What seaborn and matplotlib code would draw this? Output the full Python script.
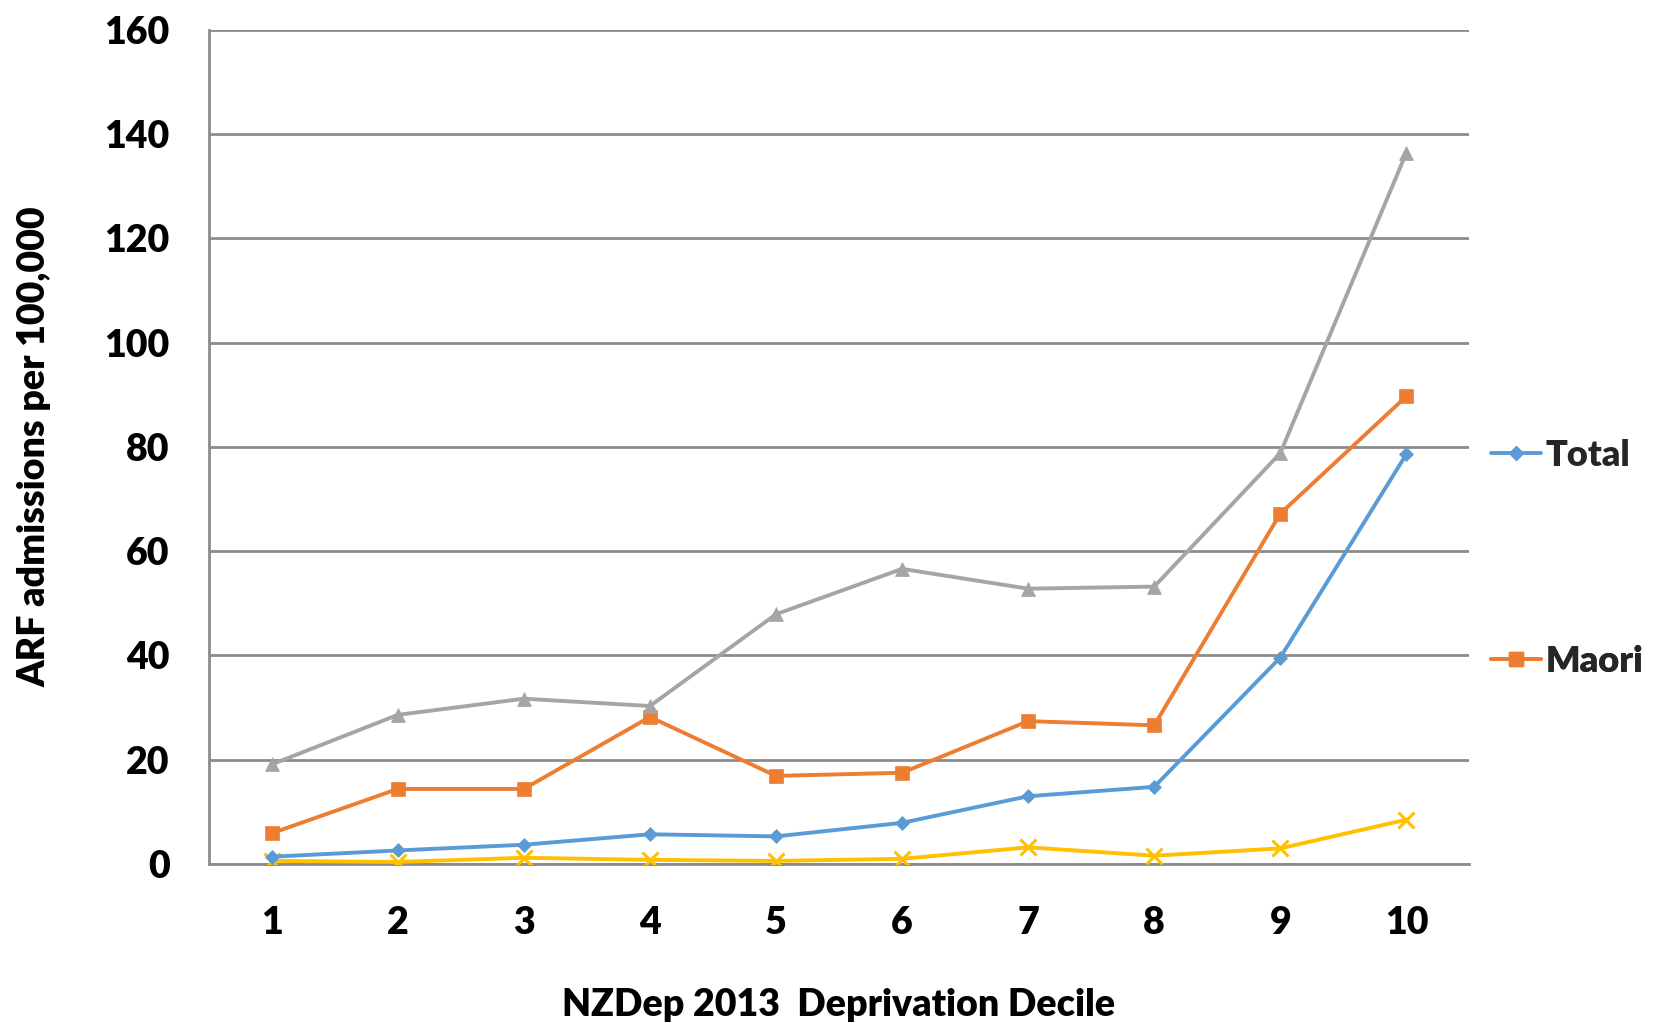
import matplotlib
matplotlib.use("Agg")
import matplotlib.pyplot as plt
import seaborn as sns
import pandas as pd
from matplotlib.lines import Line2D

deciles = [1, 2, 3, 4, 5, 6, 7, 8, 9, 10]
total = [1.4, 2.6, 3.7, 5.7, 5.3, 7.9, 13.0, 14.8, 39.6, 78.6]
maori = [5.9, 14.4, 14.4, 28.2, 16.9, 17.5, 27.4, 26.6, 67.2, 89.7]
pacific = [19.1, 28.6, 31.7, 30.3, 47.9, 56.6, 52.8, 53.2, 78.8, 136.4]
other = [0.6, 0.4, 1.2, 0.8, 0.6, 1.0, 3.2, 1.6, 3.0, 8.5]
series_names = ["Total", "Maori", "Pacific", "Other"]
yticks = [0, 20, 40, 60, 80, 100, 120, 140, 160]

colors = {"Total": "#5B9BD5", "Maori": "#ED7D31", "Pacific": "#A5A5A5", "Other": "#FFC000"}
markers = {"Total": "D", "Maori": "s", "Pacific": "^", "Other": "x"}
msizes = {"Total": 7.5, "Maori": 9.5, "Pacific": 9.5, "Other": 11}

rows = []
for name, vals in zip(series_names, [total, maori, pacific, other]):
    for d, v in zip(deciles, vals):
        rows.append({"Decile": d, "Rate": v, "Series": name})
df = pd.DataFrame(rows)

sns.set_theme(style="white")
plt.rcParams['font.family'] = ['Lato', 'DejaVu Sans']

FW = "heavy"
FS = 27

fig = plt.figure(figsize=(16.6, 10.23), dpi=100)
ax = fig.add_axes([0.1257, 0.1554, 0.8852 - 0.1257, 0.971 - 0.1554])

for name in ["Other", "Total", "Maori", "Pacific"]:
    sub = df[df["Series"] == name]
    sns.lineplot(data=sub, x="Decile", y="Rate", ax=ax, color=colors[name],
                 marker=markers[name], markersize=msizes[name],
                 markeredgecolor=colors[name], markeredgewidth=2.2 if name == "Other" else 0.5,
                 linewidth=2.8, legend=False, zorder=3)

grid_c = "#8C8C8C"
ax.set_xlim(0.5, 10.5)
ax.set_ylim(0, 160)
ax.set_yticks(yticks)
ax.set_xticks(deciles)
ax.set_xticks([x + 0.5 for x in range(0, 11)], minor=True)
ax.tick_params(axis="x", which="major", length=0, pad=30, labelsize=FS)
ax.tick_params(axis="x", which="minor", length=10, width=1.5, color=grid_c, direction="out")
ax.tick_params(axis="y", length=10, width=1.5, color=grid_c, direction="out", labelsize=FS, pad=18)
for lab in ax.get_xticklabels() + ax.get_yticklabels():
    lab.set_fontweight(FW)
    lab.set_color("black")
ax.yaxis.grid(True, color=grid_c, linewidth=2)
ax.xaxis.grid(False)
for s in ["top", "right"]:
    ax.spines[s].set_visible(False)
for s in ["left", "bottom"]:
    ax.spines[s].set_color(grid_c)
    ax.spines[s].set_linewidth(2)
ax.set_axisbelow(True)

ax.set_xlabel("NZDep 2013  Deprivation Decile", fontsize=FS, fontweight=FW, labelpad=35, color="black")
ax.set_ylabel("ARF admissions per 100,000", fontsize=FS, fontweight=FW, labelpad=38, color="black")

for name, yfrac in [("Total", 0.49), ("Maori", 0.243)]:
    h = Line2D([], [], color=colors[name], marker=markers[name], markersize=msizes[name],
               markeredgecolor=colors[name], linewidth=2.8)
    leg = ax.legend([h], [name], loc="center left", bbox_to_anchor=(1.017, yfrac),
                    frameon=False, handlelength=1.4, handletextpad=0.12,
                    borderaxespad=0, borderpad=0,
                    prop={"weight": FW, "size": 26, "family": "Lato"})
    ax.add_artist(leg)

fig.savefig("out.png", dpi=100)
